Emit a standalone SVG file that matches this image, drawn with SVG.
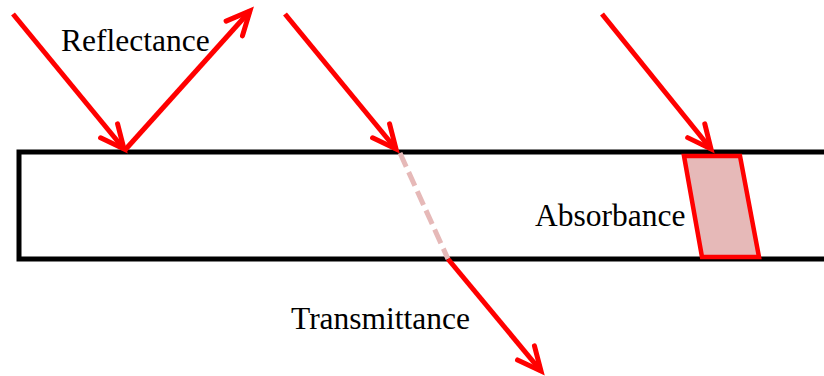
<svg xmlns="http://www.w3.org/2000/svg" width="824" height="376" viewBox="0 0 824 376">
<style>
.ray{fill:none;stroke:#FF0000;stroke-width:5;stroke-linecap:butt}
.lbl{font-family:"Liberation Serif","Times New Roman",serif;font-size:31.5px;fill:#000}
</style>
<defs>
<marker id="open" markerUnits="userSpaceOnUse" markerWidth="40" markerHeight="40" viewBox="-30 -20 40 40" refX="0" refY="0" orient="auto" overflow="visible">
<path d="M -23.5 -11 L 0 0 L -23.5 11" fill="none" stroke="#FF0000" stroke-width="5" stroke-linecap="round" stroke-linejoin="miter"/>
</marker>
</defs>
<rect width="824" height="376" fill="#fff"/>
<g id="slab">
<path d="M 830 152 L 19 152 L 19 259 L 830 259" fill="#fff" stroke="#000" stroke-width="5"/>
</g>
<g id="absorber">
<polygon points="684,156 740,156 759,257 702,257" fill="#E6B9B8" stroke="#FF0000" stroke-width="4.5" stroke-linejoin="miter"/>
</g>
<g id="connectors">
<line class="ray" x1="13" y1="14" x2="124" y2="149" marker-end="url(#open)"/>
<line class="ray" x1="125" y1="150" x2="250" y2="11" marker-end="url(#open)"/>
<line class="ray" x1="285" y1="14" x2="396" y2="149" marker-end="url(#open)"/>
<line x1="400" y1="153" x2="448" y2="259" fill="none" stroke="#E6B9B8" stroke-width="5" stroke-dasharray="15 6"/>
<line class="ray" x1="448" y1="259" x2="541" y2="371" marker-end="url(#open)"/>
<line class="ray" x1="602" y1="14" x2="711" y2="149" marker-end="url(#open)"/>
</g>
<g id="label-reflectance"><text class="lbl" x="61" y="51">Reflectance</text></g>
<g id="label-absorbance"><text class="lbl" x="535" y="226">Absorbance</text></g>
<g id="label-transmittance"><text class="lbl" x="291" y="329">Transmittance</text></g>
</svg>
